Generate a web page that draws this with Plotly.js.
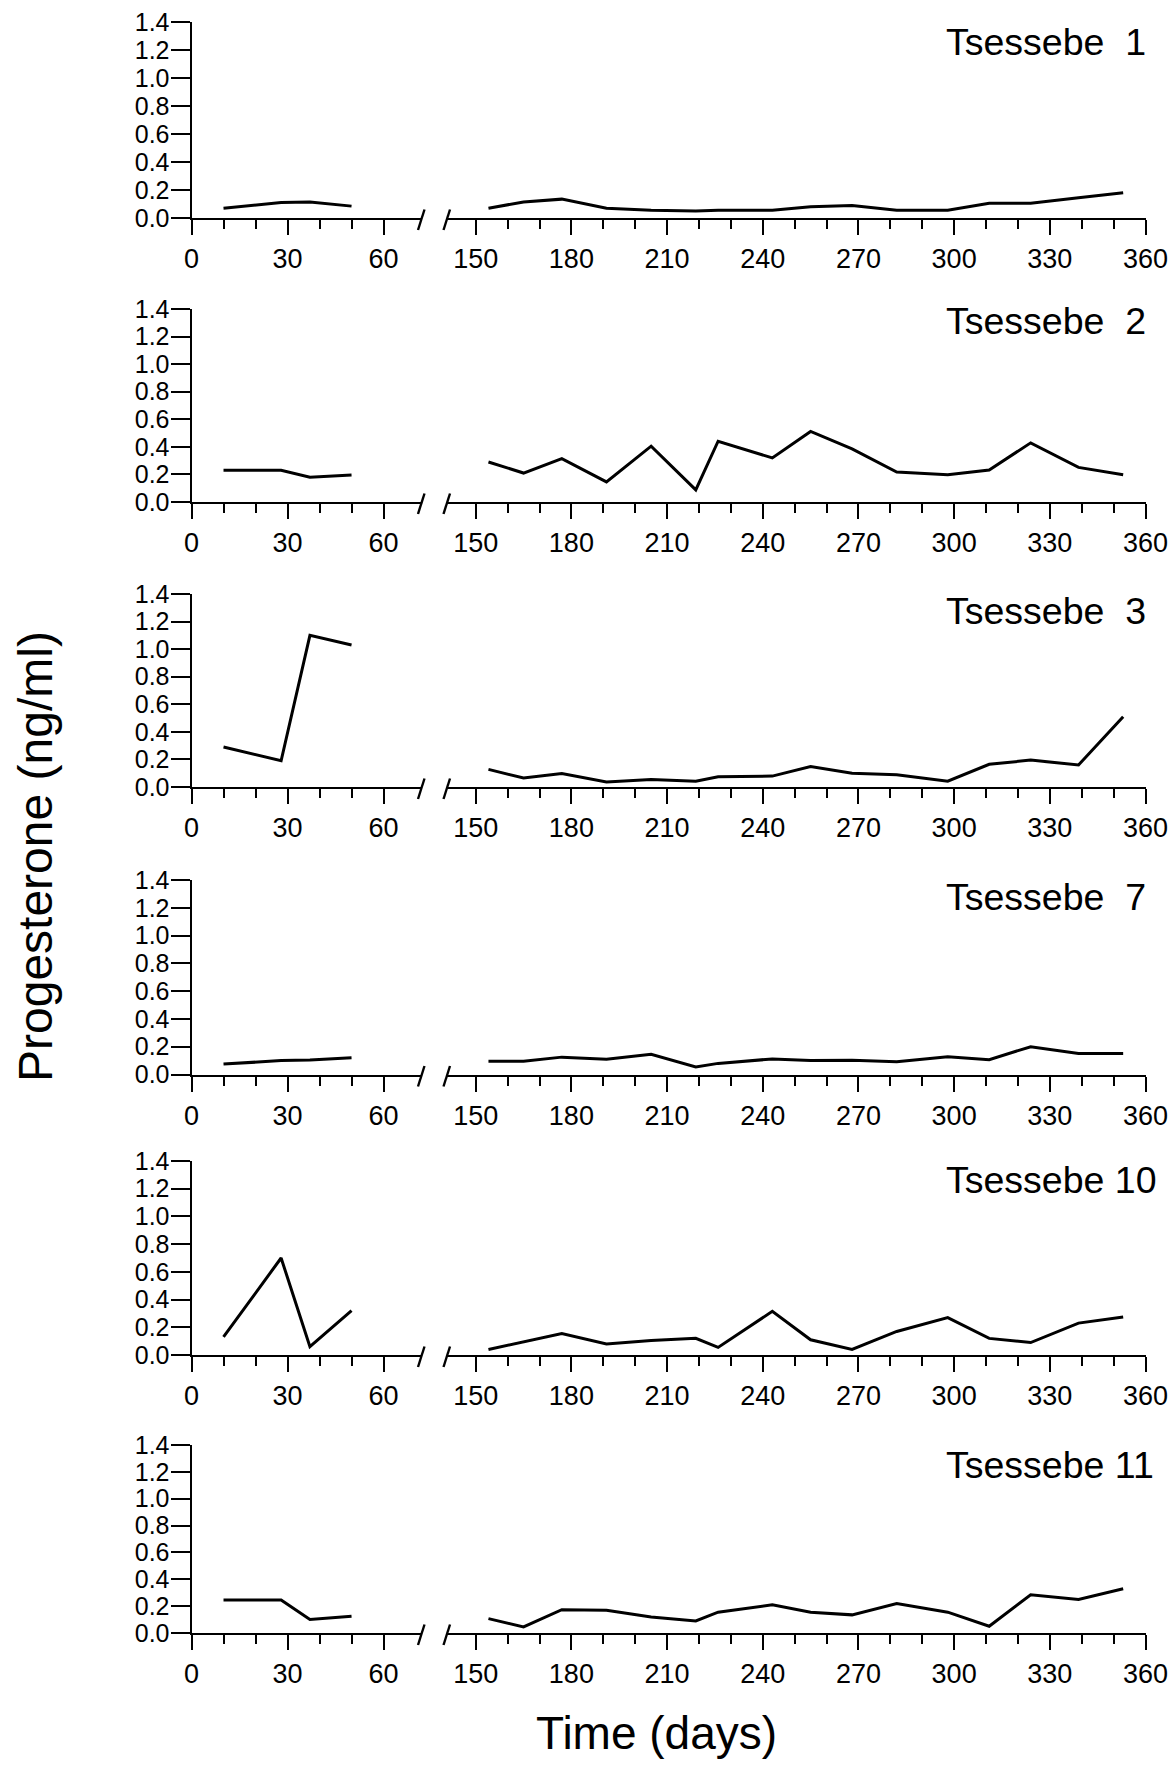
<!DOCTYPE html>
<html>
<head>
<meta charset="utf-8">
<script src="https://cdn.plot.ly/plotly-3.0.1.min.js"></script>
<style>
  html, body { margin: 0; padding: 0; background: #fff; }
  #chart { width: 1176px; height: 1766px; }
</style>
</head>
<body>
<div id="chart"></div>
<script>
// Sampling days: early block (0-60) and late block (150-360)
const daysEarly = [10, 28, 37, 50];
const daysLate = [154, 165, 177, 191, 205, 219, 226, 243, 255, 268, 282, 298, 311, 324, 339, 353];

// Animal names
const animals = ['Tsessebe\u00a0\u00a01', 'Tsessebe\u00a0\u00a02', 'Tsessebe\u00a0\u00a03', 'Tsessebe\u00a0\u00a07', 'Tsessebe 10', 'Tsessebe 11'];

// Progesterone (ng/ml) per animal
const t1Early = [0.07, 0.11, 0.115, 0.085];
const t1Late = [0.07, 0.115, 0.135, 0.07, 0.055, 0.05, 0.055, 0.055, 0.08, 0.09, 0.055, 0.055, 0.105, 0.105, 0.145, 0.18];

const t2Early = [0.23, 0.23, 0.18, 0.195];
const t2Late = [0.29, 0.21, 0.315, 0.146, 0.405, 0.088, 0.441, 0.32, 0.512, 0.385, 0.217, 0.198, 0.232, 0.429, 0.251, 0.198];

const t3Early = [0.29, 0.19, 1.10, 1.03];
const t3Late = [0.128, 0.065, 0.097, 0.037, 0.054, 0.042, 0.074, 0.079, 0.148, 0.099, 0.089, 0.042, 0.165, 0.195, 0.16, 0.51];

const t7Early = [0.075, 0.10, 0.105, 0.12];
const t7Late = [0.096, 0.096, 0.125, 0.11, 0.146, 0.055, 0.08, 0.112, 0.1, 0.102, 0.092, 0.127, 0.107, 0.2, 0.151, 0.151];

const t10Early = [0.13, 0.70, 0.06, 0.32];
const t10Late = [0.04, 0.095, 0.155, 0.08, 0.105, 0.12, 0.055, 0.315, 0.11, 0.04, 0.17, 0.27, 0.12, 0.09, 0.23, 0.275];

const t11Early = [0.245, 0.245, 0.10, 0.125];
const t11Late = [0.107, 0.045, 0.174, 0.17, 0.12, 0.09, 0.155, 0.21, 0.155, 0.135, 0.22, 0.155, 0.05, 0.285, 0.25, 0.33];

// Axis ticks
const yTicks = [0, 0.2, 0.4, 0.6, 0.8, 1.0, 1.2, 1.4];
const xTicksEarly = [0, 30, 60];
const xMinorEarly = [10, 20, 40, 50];
const xTicksLate = [150, 180, 210, 240, 270, 300, 330, 360];
const xMinorLate = [160, 170, 190, 200, 220, 230, 250, 260, 280, 290, 310, 320, 340, 350];

const seriesEarly = [t1Early, t2Early, t3Early, t7Early, t10Early, t11Early];
const seriesLate = [t1Late, t2Late, t3Late, t7Late, t10Late, t11Late];

// ---- page geometry (pixels) ----
const W = 1176, H = 1766;
const FONT = 'Liberation Sans, Arial, Helvetica, sans-serif';
const panels = [[22.3, 218], [309, 502], [594, 787], [880, 1074.5], [1161, 1355], [1445, 1633]];
const labelCenters = [42, 321, 611, 897, 1180, 1464.5];
const leftPx = [191.5, 421];
const rightPx = [447, 1145.5];
const px = v => v / W;
const py = v => (H - v) / H;

const traces = [];
const layout = {
  width: W, height: H, autosize: false,
  margin: {l: 0, r: 0, t: 0, b: 0},
  paper_bgcolor: '#fff', plot_bgcolor: 'rgba(0,0,0,0)',
  showlegend: false,
  font: {family: FONT, color: '#000'},
  shapes: [], annotations: []
};

const tickStyle = {
  showline: true, linecolor: '#000', linewidth: 2,
  ticks: 'outside', tickcolor: '#000', tickwidth: 2,
  showgrid: false, zeroline: false
};

panels.forEach(([top, bot], i) => {
  const nL = 2 * i + 1, nR = 2 * i + 2, nY = i + 1;
  const xL = nL === 1 ? 'x' : 'x' + nL;
  const xR = 'x' + nR;
  const yN = nY === 1 ? 'y' : 'y' + nY;

  traces.push({
    type: 'scatter', mode: 'lines', x: daysEarly, y: seriesEarly[i],
    xaxis: xL, yaxis: yN, line: {color: '#000', width: 3}, hoverinfo: 'skip'
  });
  traces.push({
    type: 'scatter', mode: 'lines', x: daysLate, y: seriesLate[i],
    xaxis: xR, yaxis: yN, line: {color: '#000', width: 3}, hoverinfo: 'skip'
  });

  const xFont = {family: FONT, size: 27, color: '#000'};
  layout['xaxis' + (nL === 1 ? '' : nL)] = Object.assign({}, tickStyle, {
    domain: [px(leftPx[0]), px(leftPx[1])], range: [0, 71.7], anchor: yN,
    tickmode: 'array', tickvals: xTicksEarly, ticktext: xTicksEarly.map(String),
    ticklen: 15, ticklabelstandoff: 1, tickfont: xFont,
    minor: {tickmode: 'array', tickvals: xMinorEarly, ticks: 'outside', ticklen: 9, tickwidth: 2, tickcolor: '#000', showgrid: false}
  });
  layout['xaxis' + nR] = Object.assign({}, tickStyle, {
    domain: [px(rightPx[0]), px(rightPx[1])], range: [141, 360], anchor: yN,
    tickmode: 'array', tickvals: xTicksLate, ticktext: xTicksLate.map(String),
    ticklen: 15, ticklabelstandoff: 1, tickfont: xFont,
    minor: {tickmode: 'array', tickvals: xMinorLate, ticks: 'outside', ticklen: 9, tickwidth: 2, tickcolor: '#000', showgrid: false}
  });
  layout['yaxis' + (nY === 1 ? '' : nY)] = Object.assign({}, tickStyle, {
    domain: [py(bot), py(top)], range: [0, 1.4], anchor: xL,
    tickmode: 'array', tickvals: yTicks, ticktext: yTicks.map(v => v.toFixed(1)),
    ticklen: 19, ticklabelstandoff: -4, tickfont: {family: FONT, size: 25, color: '#000'}
  });

  // axis break marks
  [[418, 424.5], [443.5, 450]].forEach(([a, b]) => {
    layout.shapes.push({
      type: 'line', xref: 'paper', yref: 'paper',
      x0: px(a), y0: py(bot + 12), x1: px(b), y1: py(bot - 8.5),
      line: {color: '#000', width: 2.4}
    });
  });

  layout.annotations.push({
    xref: 'paper', yref: 'paper', x: px(944), y: py(labelCenters[i]),
    xanchor: 'left', yanchor: 'middle', showarrow: false,
    text: animals[i], font: {family: FONT, size: 37.5, color: '#000'}
  });
});

layout.annotations.push({
  xref: 'paper', yref: 'paper', x: px(36), y: py(857),
  xanchor: 'center', yanchor: 'middle', showarrow: false, textangle: -90,
  text: 'Progesterone (ng/ml)', font: {family: FONT, size: 48, color: '#000'}
});
layout.annotations.push({
  xref: 'paper', yref: 'paper', x: px(656), y: py(1733),
  xanchor: 'center', yanchor: 'middle', showarrow: false,
  text: 'Time (days)', font: {family: FONT, size: 46, color: '#000'}
});

Plotly.newPlot('chart', traces, layout, {staticPlot: true, displayModeBar: false});
</script>
</body>
</html>
